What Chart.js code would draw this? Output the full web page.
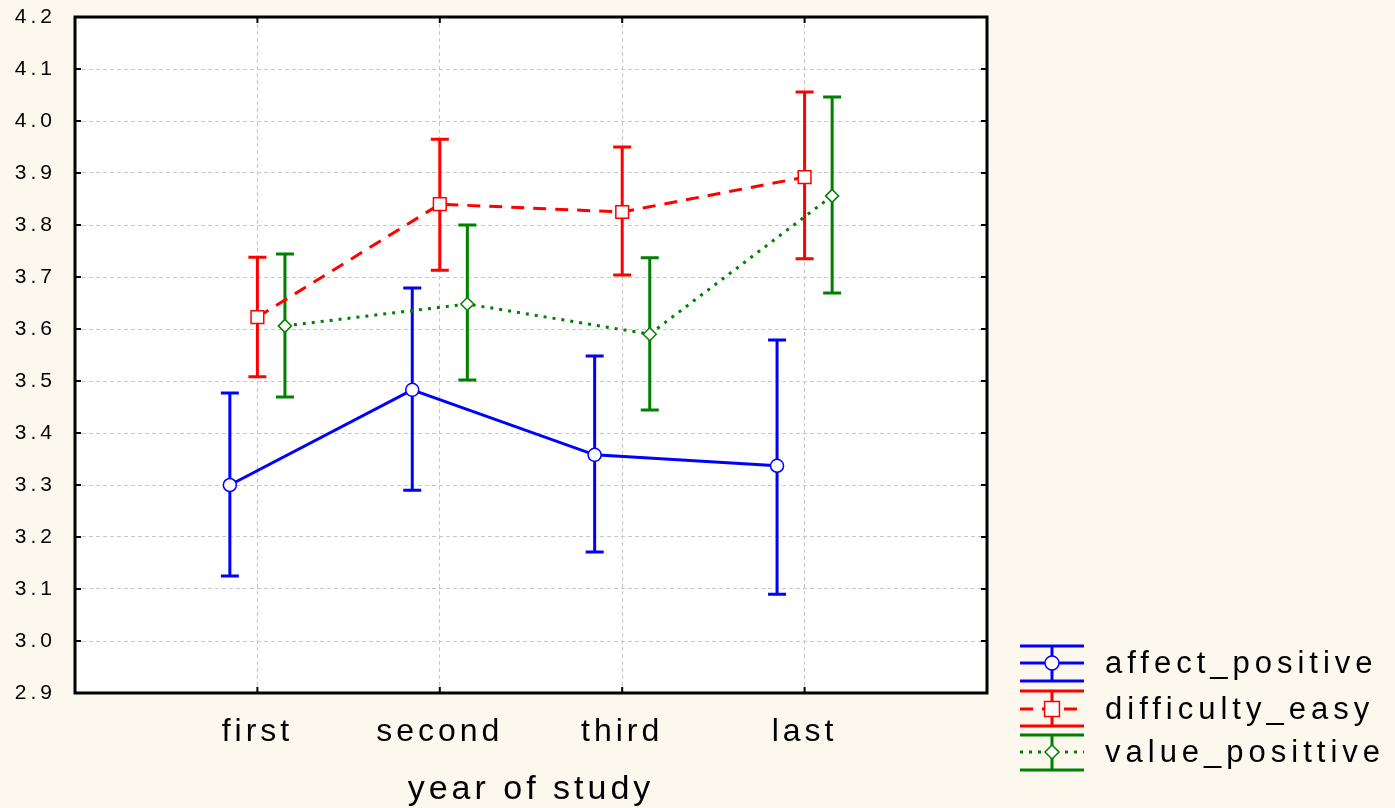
<!DOCTYPE html>
<html>
<head>
<meta charset="utf-8">
<script src="https://cdn.jsdelivr.net/npm/chart.js@4.4.1/dist/chart.umd.min.js"></script>
<style>
  html, body { margin: 0; padding: 0; background: #fdf8ee; }
  #wrap { width: 1395px; height: 808px; position: relative; }
</style>
</head>
<body>
<div id="wrap"><canvas id="chart"></canvas></div>
<script>
const categories = ['first', 'second', 'third', 'last'];
const seriesNames = ['affect_positive', 'difficulty_easy', 'value_posittive'];

const affectMean = [3.300, 3.483, 3.358, 3.337];
const affectLow  = [3.125, 3.290, 3.171, 3.090];
const affectHigh = [3.477, 3.679, 3.548, 3.579];

const difficultyMean = [3.623, 3.840, 3.825, 3.892];
const difficultyLow  = [3.508, 3.713, 3.704, 3.735];
const difficultyHigh = [3.738, 3.965, 3.950, 4.056];

const valueMean = [3.606, 3.648, 3.590, 3.856];
const valueLow  = [3.469, 3.502, 3.444, 3.669];
const valueHigh = [3.744, 3.800, 3.737, 4.046];

const yMin = 2.9, yMax = 4.2, yStep = 0.1;

const BLUE = '#0000ff', RED = '#ff0000', GREEN = '#008000';
const FONT = "'Liberation Sans', Arial, sans-serif";

const series = [
    { name: seriesNames[0], mean: affectMean, low: affectLow, high: affectHigh, color: BLUE, shift: -0.151, dash: [], point: 'circle', radius: 6.5 },
    { name: seriesNames[1], mean: difficultyMean, low: difficultyLow, high: difficultyHigh, color: RED, shift: 0, dash: [13, 9], point: 'rect', radius: 9 },
    { name: seriesNames[2], mean: valueMean, low: valueLow, high: valueHigh, color: GREEN, shift: 0.151, dash: [3, 6], point: 'rectRot', radius: 6.5 }
];

function drawMarker(ctx, style, x, y, r, color) {
    ctx.save();
    ctx.setLineDash([]);
    ctx.fillStyle = '#ffffff';
    ctx.strokeStyle = color;
    ctx.lineWidth = 1.5;
    ctx.beginPath();
    if (style === 'circle') {
        ctx.arc(x, y, r, 0, Math.PI * 2);
    } else if (style === 'rect') {
        const s = r * Math.SQRT1_2;
        ctx.rect(x - s, y - s, 2 * s, 2 * s);
    } else {
        ctx.moveTo(x, y - r); ctx.lineTo(x + r, y); ctx.lineTo(x, y + r); ctx.lineTo(x - r, y); ctx.closePath();
    }
    ctx.fill();
    ctx.stroke();
    ctx.restore();
}

const spacingPlugin = {
    id: 'spacing',
    beforeLayout(chart) { chart.ctx.letterSpacing = '4px'; },
    beforeDraw(chart) {
        chart.ctx.letterSpacing = '4px';
        const { ctx, chartArea: a } = chart;
        ctx.save();
        ctx.fillStyle = '#ffffff';
        ctx.fillRect(a.left, a.top, a.right - a.left, a.bottom - a.top);
        ctx.restore();
    }
};

const errorBarPlugin = {
    id: 'errorBars',
    beforeDatasetsDraw(chart) {
        const { ctx, scales: { x, y } } = chart;
        ctx.save();
        ctx.lineWidth = 3;
        ctx.setLineDash([]);
        series.forEach(s => {
            ctx.strokeStyle = s.color;
            s.mean.forEach((m, i) => {
                const px = x.getPixelForValue(i + s.shift);
                const pLo = y.getPixelForValue(s.low[i]);
                const pHi = y.getPixelForValue(s.high[i]);
                ctx.beginPath();
                ctx.moveTo(px, pLo); ctx.lineTo(px, pHi);
                ctx.moveTo(px - 9, pLo); ctx.lineTo(px + 9, pLo);
                ctx.moveTo(px - 9, pHi); ctx.lineTo(px + 9, pHi);
                ctx.stroke();
            });
        });
        ctx.restore();
    }
};

const framePlugin = {
    id: 'frame',
    afterDraw(chart) {
        const { ctx, chartArea: a, scales: { x, y } } = chart;
        ctx.save();
        ctx.setLineDash([]);
        ctx.strokeStyle = '#000000';
        ctx.lineWidth = 2;
        ctx.beginPath();
        y.ticks.forEach(t => {
            const py = y.getPixelForValue(t.value);
            ctx.moveTo(a.left, py); ctx.lineTo(a.left + 6, py);
            ctx.moveTo(a.right, py); ctx.lineTo(a.right - 6, py);
        });
        x.ticks.forEach(t => {
            if (t.value < 0 || t.value >= categories.length) return;
            const px = x.getPixelForValue(t.value);
            ctx.moveTo(px, a.bottom); ctx.lineTo(px, a.bottom - 6);
            ctx.moveTo(px, a.top); ctx.lineTo(px, a.top + 6);
        });
        ctx.stroke();
        ctx.lineWidth = 3;
        ctx.strokeRect(a.left, a.top, a.right - a.left, a.bottom - a.top);

        // legend
        const rows = [
            { top: 646, mid: 663, bottom: 681 },
            { top: 691, mid: 709, bottom: 726 },
            { top: 735, mid: 752, bottom: 770 }
        ];
        const lx0 = 1020, lx1 = 1084, lxc = 1052;
        ctx.font = '31px ' + FONT;
        ctx.letterSpacing = '5px';
        ctx.textBaseline = 'middle';
        ctx.textAlign = 'left';
        series.forEach((s, k) => {
            const r = rows[k];
            ctx.strokeStyle = s.color;
            ctx.lineWidth = 3;
            ctx.setLineDash([]);
            ctx.beginPath();
            ctx.moveTo(lx0, r.top); ctx.lineTo(lx1, r.top);
            ctx.moveTo(lx0, r.bottom); ctx.lineTo(lx1, r.bottom);
            ctx.moveTo(lxc, r.top); ctx.lineTo(lxc, r.bottom);
            ctx.stroke();
            ctx.setLineDash(s.dash);
            ctx.beginPath();
            ctx.moveTo(lx0, r.mid); ctx.lineTo(lx1, r.mid);
            ctx.stroke();
            drawMarker(ctx, s.point, lxc, r.mid, s.point === 'rect' ? 10.5 : 7, s.color);
            ctx.fillStyle = '#000000';
            ctx.fillText(s.name, 1105, r.mid + 1);
        });
        ctx.restore();
    }
};

const datasets = series.map(s => ({
    label: s.name,
    data: s.mean.map((v, i) => ({ x: i + s.shift, y: v })),
    borderColor: s.color,
    borderWidth: 3,
    borderDash: s.dash,
    pointStyle: s.point,
    pointRadius: s.radius,
    pointBackgroundColor: '#ffffff',
    pointBorderColor: s.color,
    pointBorderWidth: 1.5,
    tension: 0,
    fill: false
}));

new Chart(document.getElementById('chart').getContext('2d'), {
    type: 'line',
    data: { datasets },
    plugins: [spacingPlugin, errorBarPlugin, framePlugin],
    options: {
        responsive: true,
        maintainAspectRatio: false,
        animation: false,
        layout: { padding: { left: 0, top: 17, right: 408, bottom: 0 } },
        plugins: {
            legend: { display: false },
            tooltip: { enabled: false }
        },
        scales: {
            x: {
                type: 'linear',
                min: -1,
                max: categories.length,
                afterFit: scale => { scale.height = 115; scale.paddingLeft = 0; scale.paddingRight = 0; },
                ticks: {
                    stepSize: 1,
                    autoSkip: false,
                    maxRotation: 0,
                    padding: 20,
                    color: '#000000',
                    font: { family: FONT, size: 32 },
                    callback: v => categories[v] || ''
                },
                grid: { color: '#c8c8c8', lineWidth: 1, drawTicks: false },
                border: { display: false, dash: [4, 3] },
                title: {
                    display: true,
                    text: 'year of study',
                    color: '#000000',
                    font: { family: FONT, size: 34, lineHeight: 1 },
                    padding: { top: 0, bottom: 1 }
                }
            },
            y: {
                min: yMin,
                max: yMax,
                afterFit: scale => { scale.width = 75; scale.paddingTop = 0; scale.paddingBottom = 0; },
                ticks: {
                    stepSize: yStep,
                    padding: 19,
                    color: '#000000',
                    font: { family: FONT, size: 21 },
                    callback: v => v.toFixed(1)
                },
                grid: { color: '#c8c8c8', lineWidth: 1, drawTicks: false },
                border: { display: false, dash: [4, 3] }
            }
        }
    }
});
</script>
</body>
</html>
